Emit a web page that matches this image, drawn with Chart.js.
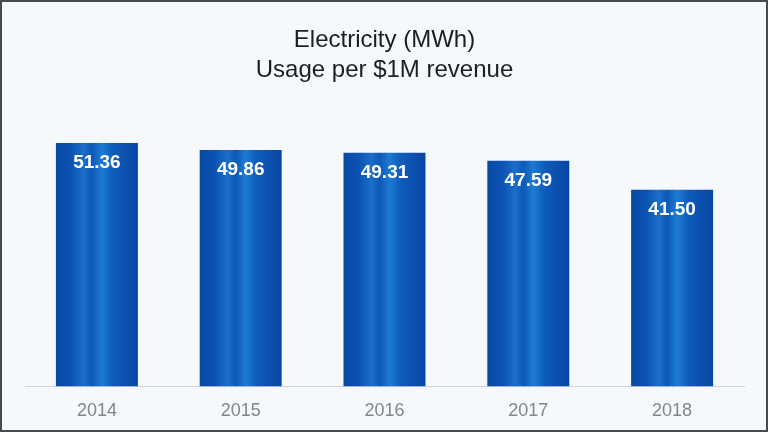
<!DOCTYPE html>
<html lang="en">
<head>
	<meta charset="UTF-8">
	<title>Electricity (MWh) Usage per $1M revenue</title>
	<script src="https://cdn.jsdelivr.net/npm/chart.js"></script>
	<style>
		html, body { margin: 0; padding: 0; background: #f5f9fd; }
		#wrap { width: 768px; height: 432px; }
	</style>
</head>
<body>
	<div id="wrap"><canvas id="canvas1"></canvas></div>

	<script>
		// data
		const years = ['2014', '2015', '2016', '2017', '2018'];
		const usage = [51.36, 49.86, 49.31, 47.59, 41.50];
		const titleLines = ['Electricity (MWh)', 'Usage per $1M revenue'];

		const FONT = "'Liberation Sans', Arial, Helvetica, sans-serif";

		// horizontal gradient per bar, so every bar gets its own stripes
		function barFill(context) {
			const chart = context.chart;
			const xs = chart.scales.x;
			if (!chart.chartArea || !xs || context.dataIndex === undefined) return '#0d56b4';
			const cx = xs.getPixelForValue(context.dataIndex);
			const w = xs.width / years.length * 0.57;
			const g = chart.ctx.createLinearGradient(cx - w / 2, 0, cx + w / 2, 0);
			g.addColorStop(0.00, '#0a47a6');
			g.addColorStop(0.18, '#0c52b2');
			g.addColorStop(0.34, '#1a6fca');
			g.addColorStop(0.44, '#0e58b8');
			g.addColorStop(0.56, '#1d7bd2');
			g.addColorStop(0.70, '#0f5bbb');
			g.addColorStop(0.86, '#0b4fae');
			g.addColorStop(1.00, '#0945a2');
			return g;
		}

		// background + frame
		const framePlugin = {
			id: 'frame',
			beforeDraw(chart) {
				const c = chart.ctx;
				c.save();
				c.fillStyle = '#f5f9fd';
				c.fillRect(0, 0, chart.width, chart.height);
				c.restore();
			},
			afterDraw(chart) {
				const c = chart.ctx;
				c.save();
				c.strokeStyle = '#4a4a4a';
				c.lineWidth = 2;
				c.strokeRect(1, 1, chart.width - 2, chart.height - 2);
				c.restore();
			}
		};

		// white value labels inside the top of each bar
		const valuePlugin = {
			id: 'values',
			afterDatasetsDraw(chart) {
				const c = chart.ctx;
				const meta = chart.getDatasetMeta(0);
				c.save();
				c.fillStyle = '#ffffff';
				c.font = 'bold 19px ' + FONT;
				c.textAlign = 'center';
				c.textBaseline = 'middle';
				meta.data.forEach((bar, i) => {
					c.fillText(usage[i].toFixed(2), bar.x, bar.y + 20);
				});
				c.restore();
			}
		};

		const config = {
			type: 'bar',
			data: {
				labels: years,
				datasets: [{
					label: 'Electricity (MWh)',
					data: usage,
					backgroundColor: barFill,
					borderWidth: 0,
					categoryPercentage: 1.0,
					barPercentage: 0.57
				}]
			},
			options: {
				responsive: true,
				maintainAspectRatio: false,
				animation: false,
				layout: {
					padding: { left: 25, right: 24, top: 0, bottom: 4 }
				},
				scales: {
					x: {
						grid: { display: false },
						border: { display: true, color: '#d2d4d8', width: 1 },
						ticks: {
							color: '#858585',
							padding: 6,
							font: { family: FONT, size: 18 }
						}
					},
					y: {
						display: false,
						min: 0,
						max: 60
					}
				},
				plugins: {
					legend: { display: false },
					tooltip: { enabled: false },
					title: {
						display: true,
						text: titleLines,
						color: '#1e1e1e',
						font: { family: FONT, size: 24, weight: 'normal', lineHeight: 1.25 },
						padding: { top: 25, bottom: 17 }
					}
				}
			},
			plugins: [framePlugin, valuePlugin]
		};

		const resultChart = new Chart(document.getElementById('canvas1'), config);
	</script>
</body>
</html>
